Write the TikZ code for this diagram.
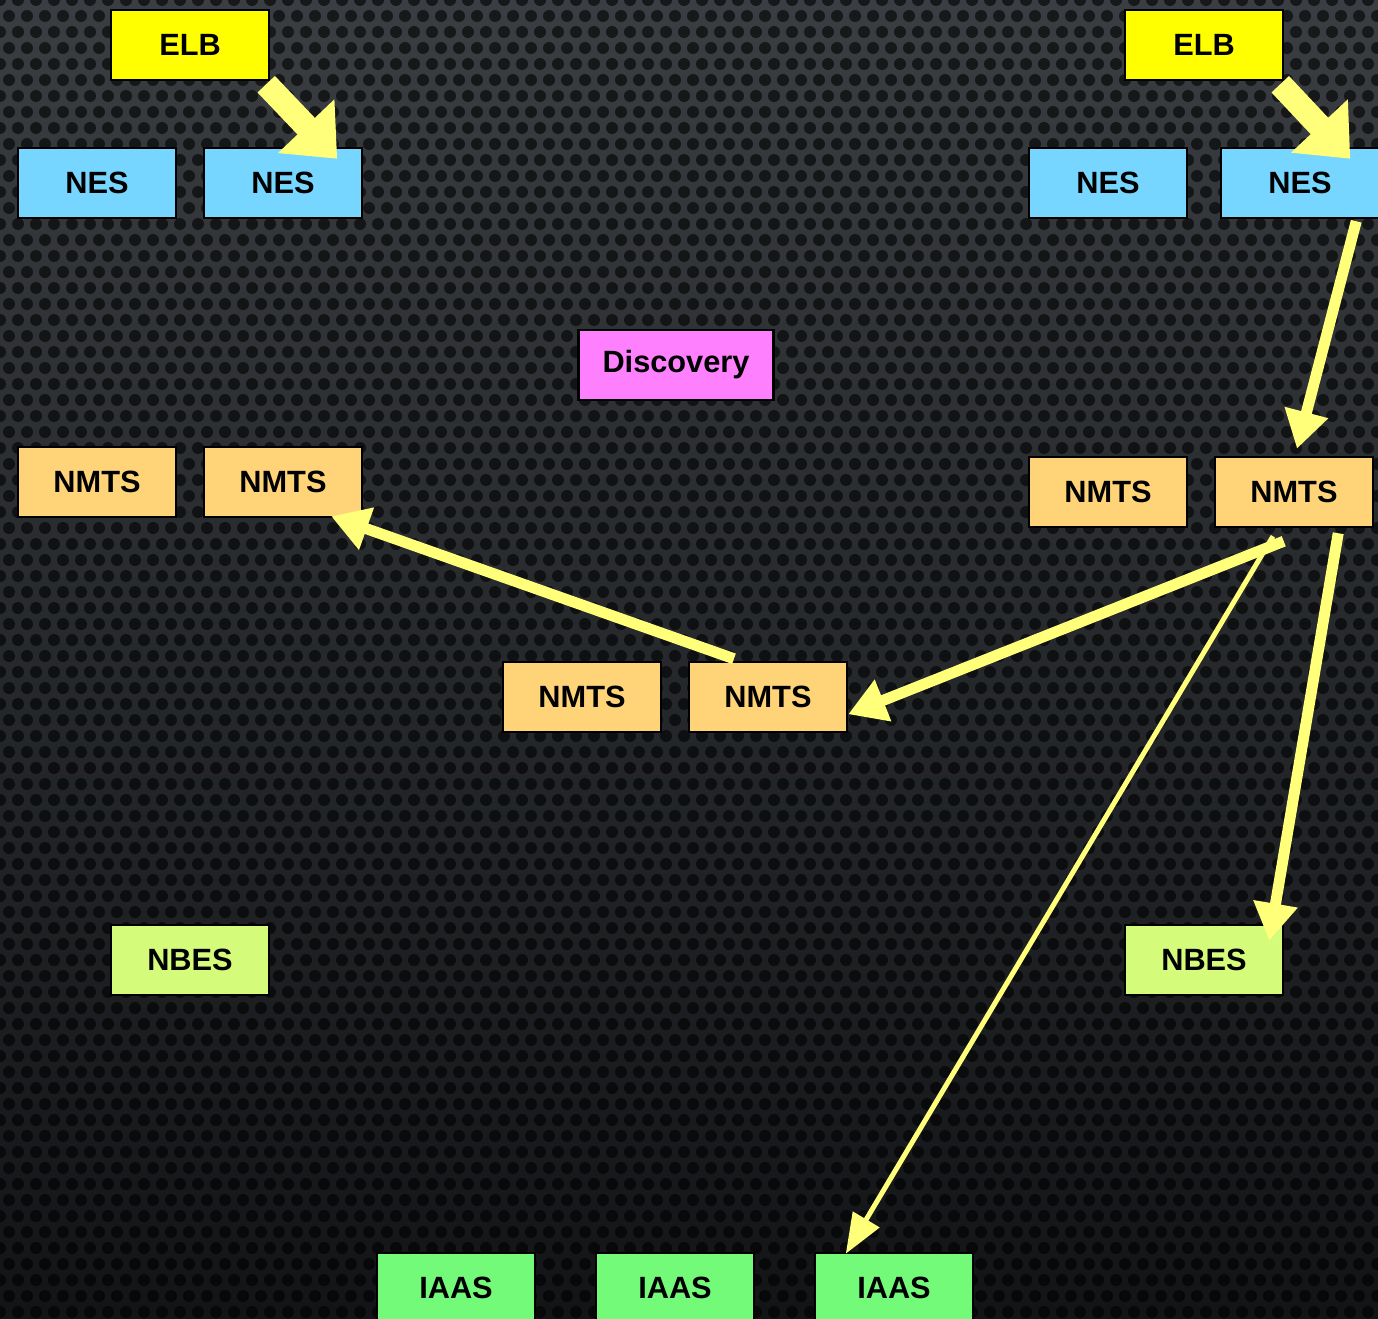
\documentclass[tikz,border=0pt]{standalone}
\usepackage{fontspec}
\setsansfont{Liberation Sans}
\usetikzlibrary{positioning, arrows.meta}
\definecolor{elbfill}{HTML}{FFFF00}
\definecolor{nesfill}{HTML}{76D6FF}
\definecolor{discfill}{HTML}{FF80FF}
\definecolor{nmtsfill}{HTML}{FFD479}
\definecolor{nbesfill}{HTML}{D4FB79}
\definecolor{iaasfill}{HTML}{73FA79}
\definecolor{flow}{HTML}{FFFF7A}
\definecolor{plate}{HTML}{3A3D41}
\definecolor{platedark}{HTML}{121416}
\tikzset{
	node distance=0.51cm, % gap between two boxes of a pair
	box/.style={draw=black, line width=0.05cm, minimum width=3.16cm, minimum height=1.4cm, inner sep=0pt,
		font=\sffamily\bfseries\fontsize{17.5}{20}\selectfont}, % every service box
	elb/.style={box, fill=elbfill},
	nes/.style={box, fill=nesfill},
	disc/.style={box, fill=discfill, minimum width=3.9cm},
	nmts/.style={box, fill=nmtsfill},
	nbes/.style={box, fill=nbesfill},
	iaas/.style={box, fill=iaasfill},
	fat/.style={draw=flow, line width=0.48cm, -{Triangle[length=0.9cm, width=1.5cm]}}, % balancer arrows
	mid/.style={draw=flow, line width=0.22cm, -{Triangle[length=0.75cm, width=0.85cm]}},
	thin/.style={draw=flow, line width=0.1cm, -{Triangle[length=0.8cm, width=0.6cm]}},
}
\begin{document}
\begin{tikzpicture}[x=0.02cm, y=-0.02cm]
	\clip (0,0) rectangle (1378,1318);
	% perforated plate
	\shade[top color=plate, bottom color=platedark] (0,0) rectangle (1378,1318);
	\foreach \r in {0,...,83} {
		\fill[black, opacity=0.6] \foreach \c in {0,...,77} {({\c*18+mod(\r,2)*9},{\r*16}) circle (6)};
	}

	\node[elb] (elbA) at (190,45) {ELB};
	\node[elb] (elbB) at (1204,45) {ELB};
	\node[nes] (nesA1) at (97,183) {NES};
	\node[nes, right=of nesA1] (nesA2) {NES};
	\node[nes] (nesB1) at (1108,183) {NES};
	\node[nes] (nesB2) at (1300,183) {NES};
	\node[disc] (disc) at (676,365) {Discovery};
	\node[nmts] (nmtsA1) at (97,482) {NMTS};
	\node[nmts, right=of nmtsA1] (nmtsA2) {NMTS};
	\node[nmts] (nmtsB1) at (1108,492) {NMTS};
	\node[nmts, right=of nmtsB1] (nmtsB2) {NMTS};
	\node[nmts] (nmtsC1) at (582,697) {NMTS};
	\node[nmts, right=of nmtsC1] (nmtsC2) {NMTS};
	\node[nbes] (nbesA) at (190,960) {NBES};
	\node[nbes] (nbesB) at (1204,960) {NBES};
	\node[iaas] (iaas1) at (456,1288) {IAAS};
	\node[iaas] (iaas2) at (675,1288) {IAAS};
	\node[iaas] (iaas3) at (894,1288) {IAAS};

	\draw[fat] ([shift={(-4,3)}]elbA.south east) -- ([shift={(-26,12)}]nesA2.north east);
	\draw[fat] ([shift={(-4,3)}]elbB.south east) -- ([shift={(-30,12)}]nesB2.north east);
	\draw[mid] ([shift={(-24,2)}]nesB2.south east) -- ([shift={(3,-7)}]nmtsB2.north);
	\draw[mid] ([shift={(70,13)}]nmtsB2.south west) -- ([shift={(0,-19)}]nmtsC2.south east);
	\draw[mid] ([shift={(-34,-2)}]nmtsC2.north) -- ([shift={(-32,-2)}]nmtsA2.south east);
	\draw[thin] ([shift={(-21,8)}]nmtsB2.south) -- ([shift={(32,2)}]iaas3.north west);
	\draw[mid] ([shift={(-36,5)}]nmtsB2.south east) -- ([shift={(-15,17)}]nbesB.north east);
\end{tikzpicture}
\end{document}
